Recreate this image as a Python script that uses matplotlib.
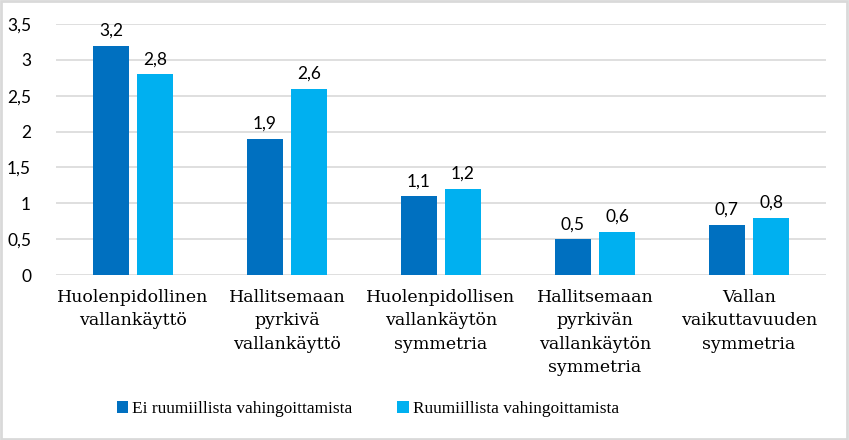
import matplotlib
matplotlib.use("Agg")
import matplotlib.pyplot as plt
from matplotlib.patches import Rectangle
import numpy as np

categories = [
    "Huolenpidollinen\nvallankäyttö",
    "Hallitsemaan\npyrkivä\nvallankäyttö",
    "Huolenpidollisen\nvallankäytön\nsymmetria",
    "Hallitsemaan\npyrkivän\nvallankäytön\nsymmetria",
    "Vallan\nvaikuttavuuden\nsymmetria",
]
series_names = ["Ei ruumiillista vahingoittamista", "Ruumiillista vahingoittamista"]
no_harm = [3.2, 1.9, 1.1, 0.5, 0.7]
harm = [2.8, 2.6, 1.2, 0.6, 0.8]
y_ticks = [0, 0.5, 1, 1.5, 2, 2.5, 3, 3.5]
y_tick_labels = ["0", "0,5", "1", "1,5", "2", "2,5", "3", "3,5"]

DARK = "#0070C0"
LIGHT = "#00B0F0"
GRID = "#D9D9D9"

fig = plt.figure(figsize=(8.49, 4.4), dpi=100)
ax = fig.add_axes([56 / 849, 1 - 275 / 440, 770 / 849, 251 / 440])

x = np.arange(len(categories))
width = 0.228
gap = 0.058
b1 = ax.bar(x - (width + gap) / 2, no_harm, width, color=DARK, label=series_names[0], zorder=3)
b2 = ax.bar(x + (width + gap) / 2, harm, width, color=LIGHT, label=series_names[1], zorder=3)

for bars in (b1, b2):
    for rect in bars:
        h = rect.get_height()
        ax.annotate(f"{h:.1f}".replace(".", ","),
                    (rect.get_x() + rect.get_width() / 2, h),
                    xytext=(0, 5), textcoords="offset points",
                    ha="center", va="bottom", fontsize=12.5, family="Lato")

ax.set_xlim(-0.5, len(categories) - 0.5)
ax.set_ylim(0, 3.5)
ax.set_yticks(y_ticks)
ax.set_yticklabels(y_tick_labels, family="Lato", fontsize=12.5)
ax.set_xticks(x)
ax.set_xticklabels(categories, family="DejaVu Serif", fontsize=12.5, linespacing=1.5)
ax.tick_params(axis="both", length=0)
ax.tick_params(axis="y", pad=18)
ax.tick_params(axis="x", pad=10)
ax.yaxis.grid(True, color=GRID, linewidth=1.2, zorder=0)
for s in ax.spines.values():
    s.set_visible(False)

leg = fig.legend(loc="center", bbox_to_anchor=(368 / 849, 1 - 409 / 440), ncol=2,
                 frameon=False, handlelength=0.65, handleheight=0.65, handletextpad=0.25,
                 columnspacing=2.6, prop={"family": "Liberation Serif", "size": 12.4})

fig.patches.append(Rectangle((0.001, 0.002), 0.997, 0.995, transform=fig.transFigure,
                             fill=False, edgecolor=GRID, linewidth=2))

fig.savefig("out.png", dpi=100)
